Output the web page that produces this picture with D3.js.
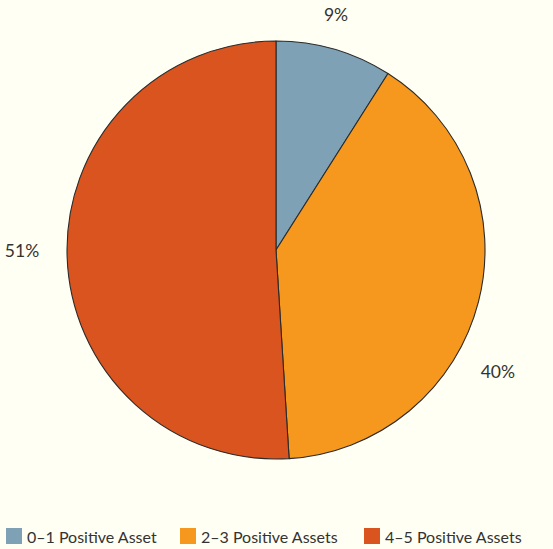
<!DOCTYPE html>
<html><head><meta charset="utf-8">
<script src="https://cdn.jsdelivr.net/npm/d3@7"></script>
<style>
html,body{margin:0;padding:0;background:#fffff3;}
svg{display:block;}
text{font-family:Lato,"Open Sans",sans-serif;fill:#333;}
</style></head>
<body><svg id="c" width="553" height="549"></svg>
<script>
const categories = ["0–1 Positive Asset", "2–3 Positive Assets", "4–5 Positive Assets"];
const values = [9, 40, 51];
const labels = ["9%", "40%", "51%"];
const colors = ["#7ea1b6", "#f7981e", "#d9541e"];

const svg = d3.select("#c");
const cx = 276, cy = 250, R = 209;

const color = d3.scaleOrdinal().domain(categories).range(colors);
const pie = d3.pie().sort(null).value(d => d.v);
const data = categories.map((c, i) => ({c, v: values[i], l: labels[i]}));
const arcs = pie(data);
const arc = d3.arc().innerRadius(0).outerRadius(R);

const g = svg.append("g").attr("transform", `translate(${cx},${cy})`);
g.selectAll("path").data(arcs).join("path")
  .attr("d", arc)
  .attr("fill", d => color(d.data.c))
  .attr("stroke", "#2b2b2b")
  .attr("stroke-width", 1.1)
  .attr("stroke-linejoin", "round");

// label placement: polar angle/radius adjustments per slice (layout, not data)
const labelAdj = [{da: -0.033, r: 243}, {da: 0.25, r: 253}, {da: 0.03, r: 254}];
g.selectAll("text.lbl").data(arcs).join("text")
  .attr("class", "lbl")
  .each(function(d, i) {
    const a = (d.startAngle + d.endAngle) / 2 + labelAdj[i].da;
    const r = labelAdj[i].r;
    d3.select(this)
      .attr("x", Math.sin(a) * r)
      .attr("y", -Math.cos(a) * r);
  })
  .attr("text-anchor", "middle")
  .attr("dominant-baseline", "central")
  .attr("font-size", 17.5)
  .text(d => d.data.l);

// legend
const lg = svg.append("g").attr("transform", "translate(0,528)");
const items = lg.selectAll("g").data(categories).join("g")
  .attr("transform", (d, i) => `translate(${[6, 180, 364][i]},0)`);
items.append("rect").attr("width", 16).attr("height", 16).attr("fill", d => color(d));
items.append("text").attr("x", 21).attr("y", 8.5)
  .attr("dominant-baseline", "central").attr("font-size", 16).text(d => d);
</script></body></html>
